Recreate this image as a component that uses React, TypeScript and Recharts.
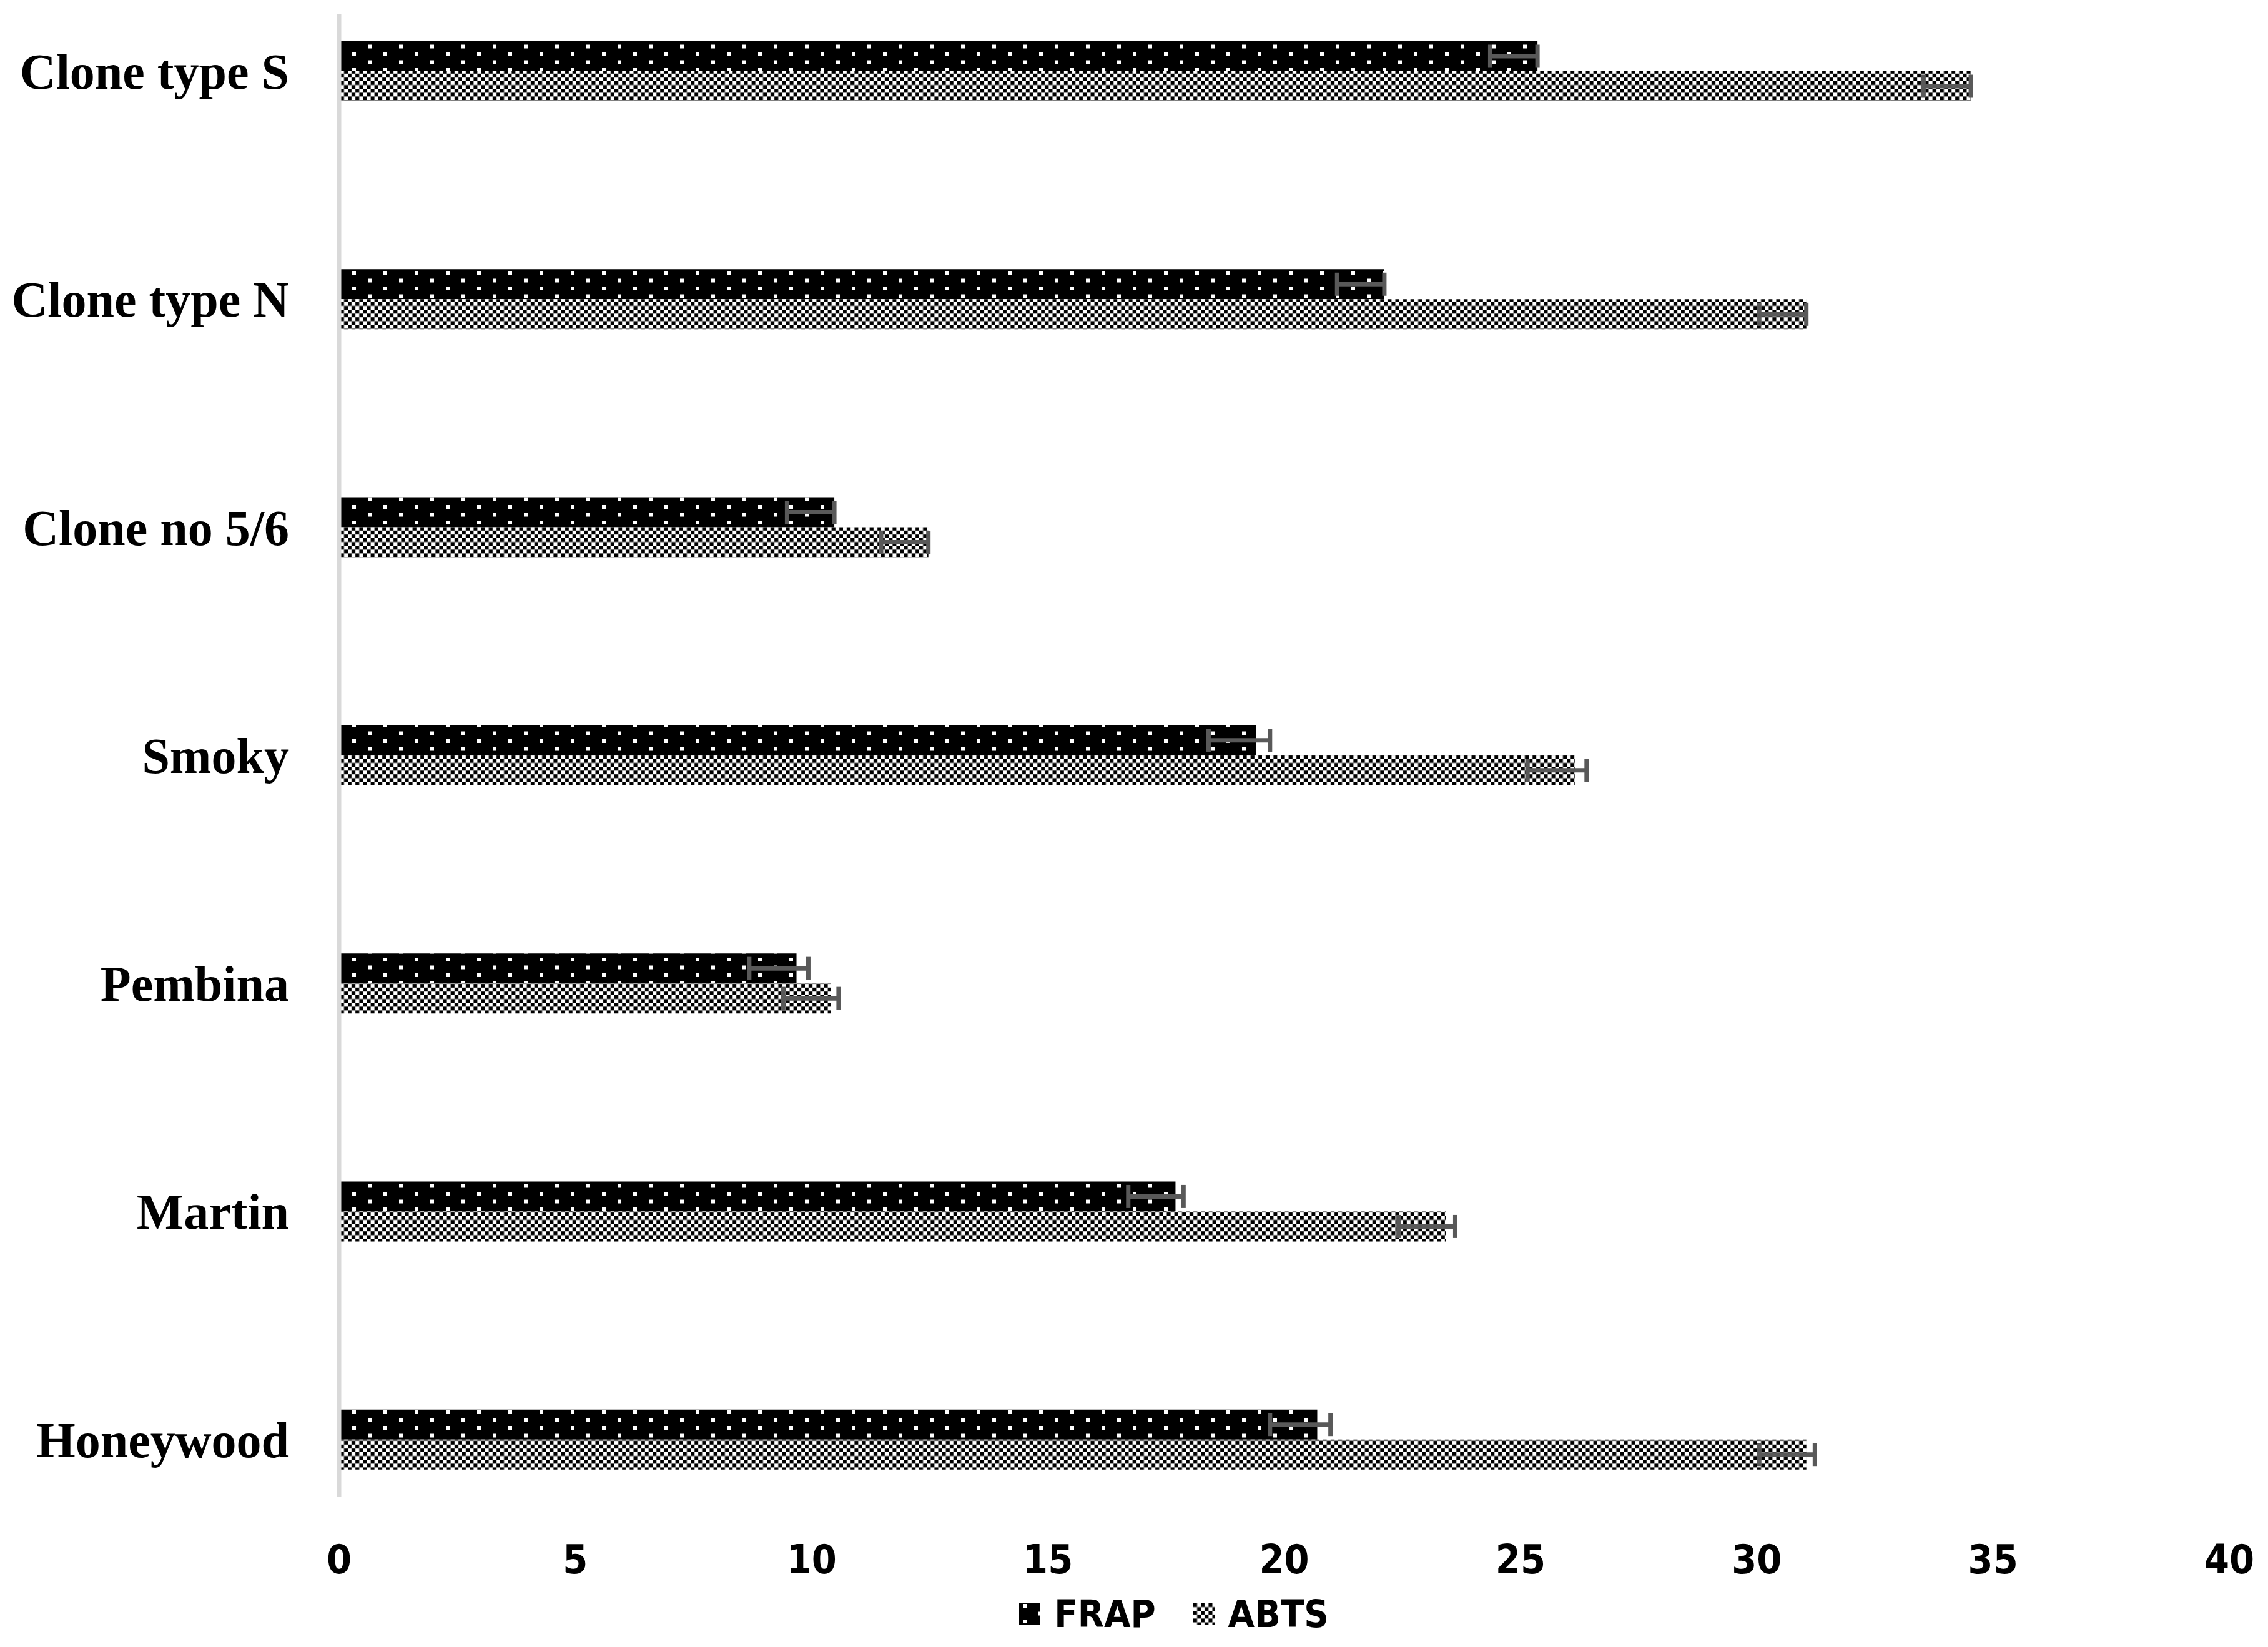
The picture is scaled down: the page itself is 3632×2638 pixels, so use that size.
import { BarChart, Bar, XAxis, YAxis, Legend, ErrorBar } from "recharts";

// cultivars, top to bottom as drawn
const cultivars = ["Clone type S", "Clone type N", "Clone no 5/6", "Smoky", "Pembina", "Martin", "Honeywood"];

const frapValues = [25.36, 22.12, 10.48, 19.4, 9.68, 17.7, 20.7];
const abtsValues = [34.53, 31.05, 12.47, 26.15, 10.4, 23.42, 31.05];

// error bars: minus side is always 1, plus side is small or missing
const frapErrMinus = [1, 1, 1, 1, 1, 1, 1];
const frapErrPlus = [0, 0, 0, 0.3, 0.25, 0.17, 0.28];
const abtsErrMinus = [1, 1, 1, 1, 1, 1, 1];
const abtsErrPlus = [0, 0, 0, 0.25, 0.17, 0.2, 0.18];

const xTicks = [0, 5, 10, 15, 20, 25, 30, 35, 40];

const legendItems = [
  { name: "FRAP", fill: "url(#frapPattern)" },
  { name: "ABTS", fill: "url(#abtsPattern)" },
];

const data = cultivars.map((name, i) => ({
  name,
  FRAP: frapValues[i],
  ABTS: abtsValues[i],
  frapErr: [frapErrMinus[i], frapErrPlus[i]],
  abtsErr: [abtsErrMinus[i], abtsErrPlus[i]],
}));

const tickFont = "'Liberation Sans Narrow', 'DejaVu Sans Condensed', sans-serif";

const renderLegend = () => (
  <div
    style={{
      display: "flex",
      justifyContent: "center",
      alignItems: "center",
      fontFamily: "'DejaVu Sans Condensed', sans-serif",
      fontWeight: "bold",
      fontSize: 61,
      lineHeight: "70px",
      color: "#000",
    }}
  >
    {legendItems.map((item, i) => (
      <span key={item.name} style={{ display: "flex", alignItems: "center", marginLeft: i ? 60 : 0 }}>
        <svg width={34} height={34}>
          <rect width={34} height={34} fill={item.fill} />
        </svg>
        <span style={{ marginLeft: 22 }}>{item.name}</span>
      </span>
    ))}
  </div>
);

const App = () => (
  <BarChart
    width={3616}
    height={2622}
    data={data}
    layout="vertical"
    margin={{ top: 14, right: 54, bottom: 113, left: 0 }}
    barGap={0}
  >
    <defs>
      <pattern id="frapPattern" patternUnits="userSpaceOnUse" width={50} height={25}>
        <rect width={50} height={25} fill="#000" />
        <rect x={6} y={1} width={6} height={6} fill="#fff" />
        <rect x={31} y={13.5} width={6} height={6} fill="#fff" />
      </pattern>
      <pattern id="abtsPattern" patternUnits="userSpaceOnUse" width={12.2} height={12.2}>
        <rect width={12.2} height={12.2} fill="#fff" />
        <rect x={0} y={0} width={6.1} height={6.1} fill="#000" />
        <rect x={6.1} y={6.1} width={6.1} height={6.1} fill="#000" />
      </pattern>
    </defs>
    <XAxis
      type="number"
      domain={[0, 40]}
      ticks={xTicks}
      axisLine={false}
      tickLine={false}
      tickSize={0}
      tickMargin={78}
      height={120}
      tick={{ fontFamily: tickFont, fontSize: 64, fontWeight: "bold", fill: "#000" }}
    />
    <YAxis
      type="category"
      dataKey="name"
      width={535}
      padding={{ top: -91, bottom: -91 }}
      axisLine={{ stroke: "#d9d9d9", strokeWidth: 7 }}
      tickLine={false}
      tickSize={0}
      tickMargin={80}
      tick={{ fontFamily: "'Liberation Serif', serif", fontSize: 80, fontWeight: "bold", fill: "#000" }}
    />
    <Legend
      layout="horizontal"
      verticalAlign="middle"
      align="center"
      wrapperStyle={{ top: 2542, left: 1272, width: 1200 }}
      content={renderLegend}
    />
    <Bar dataKey="FRAP" fill="url(#frapPattern)" barSize={48} isAnimationActive={false}>
      <ErrorBar dataKey="frapErr" direction="x" width={18.5} stroke="#595959" strokeWidth={7} />
    </Bar>
    <Bar dataKey="ABTS" fill="url(#abtsPattern)" barSize={48} isAnimationActive={false}>
      <ErrorBar dataKey="abtsErr" direction="x" width={18.5} stroke="#595959" strokeWidth={7} />
    </Bar>
  </BarChart>
);

export default App;
